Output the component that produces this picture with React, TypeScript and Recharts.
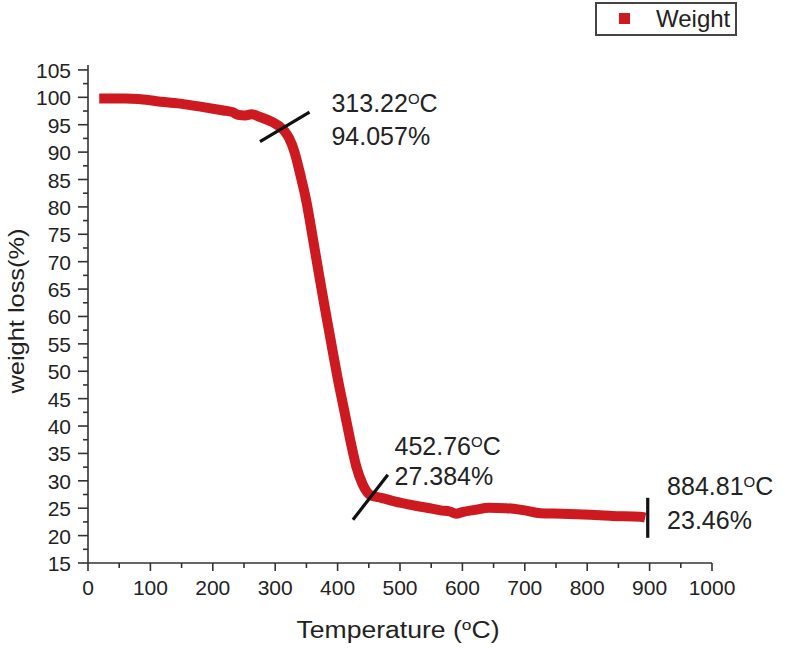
import {
  ComposedChart,
  Line,
  XAxis,
  YAxis,
  ReferenceLine,
  ReferenceDot,
} from "recharts";

// TGA curve: temperature (°C) vs remaining weight (%)
const temperature = [
  18, 60, 81, 110, 148, 180, 217, 232, 240, 252, 262, 276, 295, 313.22, 322, 331, 340, 350, 360,
  370, 380, 390, 400, 410, 420, 430, 440, 452.76, 470, 500, 527, 548, 565, 580, 590, 600, 620,
  643, 670, 700, 725, 760, 805, 840, 884.81, 893,
];
const weight = [
  99.8, 99.8, 99.7, 99.3, 98.85, 98.3, 97.6, 97.3, 96.8, 96.7, 96.9, 96.4, 95.5, 94.057, 92.6,
  90.0, 86.0, 81.0, 74.5, 67.8, 61.3, 55.0, 48.8, 43.2, 37.6, 32.6, 29.4, 27.384, 26.9, 26.0,
  25.4, 25.0, 24.6, 24.4, 24.0, 24.3, 24.7, 25.1, 25.0, 24.6, 24.1, 24.0, 23.8, 23.6, 23.46, 23.3,
];

// annotated points
const markTemps = [313.22, 452.76, 884.81];
const markWeights = [94.057, 27.384, 23.46];
const markTempLabels = ["313.22", "452.76", "884.81"];
const markWeightLabels = ["94.057%", "27.384%", "23.46%"];

// short black marker strokes (data units): [t1, w1, t2, w2]
const markerSegments = [
  [275.6, 91.9, 355, 97.3],
  [424.6, 22.9, 480.5, 31.1],
  [897, 19.6, 897, 26.9],
];

const xTicks = [
  0, 50, 100, 150, 200, 250, 300, 350, 400, 450, 500, 550, 600, 650, 700, 750, 800, 850, 900, 950,
  1000,
];
const yTicks = [
  15, 17.5, 20, 22.5, 25, 27.5, 30, 32.5, 35, 37.5, 40, 42.5, 45, 47.5, 50, 52.5, 55, 57.5, 60,
  62.5, 65, 67.5, 70, 72.5, 75, 77.5, 80, 82.5, 85, 87.5, 90, 92.5, 95, 97.5, 100, 102.5, 105,
];

const FONT = "'Liberation Sans', Arial, sans-serif";
const AXIS = "#333";
const TEXT = "#222";
const RED = "#cc1a20";

const data = temperature.map((t, i) => ({ t, w: weight[i] }));

// label offsets relative to each annotated point (px)
const labelOffsets = [
  { dx: 48, dy1: -18, dy2: 15 },
  { dx: 24, dy1: -40, dy2: -10 },
  { dx: 27, dy1: -22, dy2: 12 },
];

function XTick(props: any) {
  const { x, y, payload } = props;
  const major = payload.value % 100 === 0;
  return (
    <g>
      <line x1={x} x2={x} y1={y} y2={y + (major ? 8 : 5)} stroke={AXIS} strokeWidth={1.6} />
      {major && (
        <text x={x} y={y + 32} textAnchor="middle" fontSize={21} fill={TEXT} fontFamily={FONT}>
          {payload.value}
        </text>
      )}
    </g>
  );
}

function YTick(props: any) {
  const { x, y, payload } = props;
  const major = payload.value % 5 === 0;
  return (
    <g>
      <line x1={x} x2={x - (major ? 10 : 5)} y1={y} y2={y} stroke={AXIS} strokeWidth={1.6} />
      {major && (
        <text x={x - 17} y={y + 8} textAnchor="end" fontSize={21} fill={TEXT} fontFamily={FONT}>
          {payload.value}
        </text>
      )}
    </g>
  );
}

function PointLabel(props: any) {
  const { viewBox, temp, pct, dx, dy1, dy2 } = props;
  const cx = viewBox.x + (viewBox.width || 0) / 2;
  const cy = viewBox.y + (viewBox.height || 0) / 2;
  return (
    <g fontFamily={FONT} fill={TEXT} fontSize={25}>
      <text x={cx + dx} y={cy + dy1}>
        {temp}
        <tspan fontSize={15} dy={-8}>
          O
        </tspan>
        <tspan dy={8}>C</tspan>
      </text>
      <text x={cx + dx} y={cy + dy2}>
        {pct}
      </text>
    </g>
  );
}

function LegendBox() {
  return (
    <div
      style={{
        position: "absolute",
        left: 595,
        top: 2,
        boxSizing: "border-box",
        width: 142,
        height: 34,
        border: "2px solid #444",
        background: "#fff",
        fontFamily: FONT,
      }}
    >
      <span
        style={{
          position: "absolute",
          left: 22,
          top: 9,
          width: 11,
          height: 11,
          background: RED,
        }}
      />
      <span
        style={{
          position: "absolute",
          left: 59,
          top: 2,
          fontSize: 24,
          lineHeight: "26px",
          color: TEXT,
        }}
      >
        Weight
      </span>
    </div>
  );
}

export default function App() {
  return (
    <div style={{ position: "absolute", left: 0, top: 0, width: 787, height: 648, background: "#fff" }}>
      <ComposedChart
        width={787}
        height={648}
        data={data}
        margin={{ top: 65, right: 75, bottom: 0, left: 0 }}
      >
        <XAxis
          dataKey="t"
          type="number"
          domain={[0, 1000]}
          ticks={xTicks}
          interval={0}
          height={85}
          tickSize={0}
          tickMargin={0}
          tick={<XTick />}
          axisLine={{ stroke: AXIS, strokeWidth: 1.6 }}
        />
        <YAxis
          type="number"
          domain={[15, 105.9]}
          ticks={yTicks}
          interval={0}
          width={88}
          tickSize={0}
          tickMargin={0}
          tick={<YTick />}
          axisLine={{ stroke: AXIS, strokeWidth: 1.6 }}
        />
        <Line
          dataKey="w"
          type="monotone"
          stroke={RED}
          strokeWidth={10}
          strokeLinejoin="round"
          dot={false}
          activeDot={false}
          isAnimationActive={false}
        />
        {markerSegments.map((s, i) => (
          <ReferenceLine
            key={"seg" + i}
            segment={[
              { x: s[0], y: s[1] },
              { x: s[2], y: s[3] },
            ]}
            stroke="#111"
            strokeWidth={3.2}
          />
        ))}
        {markTemps.map((t, i) => (
          <ReferenceDot
            key={"lbl" + i}
            x={t}
            y={markWeights[i]}
            r={1}
            fill="none"
            stroke="none"
            label={
              <PointLabel
                temp={markTempLabels[i]}
                pct={markWeightLabels[i]}
                dx={labelOffsets[i].dx}
                dy1={labelOffsets[i].dy1}
                dy2={labelOffsets[i].dy2}
              />
            }
          />
        ))}
        <text
          x={24}
          y={311}
          transform="rotate(-90 24 311)"
          textAnchor="middle"
          fontSize={22}
          fill={TEXT}
          fontFamily={FONT}
          textLength={165}
          lengthAdjust="spacingAndGlyphs"
        >
          weight loss(%)
        </text>
        <text
          x={398}
          y={638}
          textAnchor="middle"
          fontSize={23}
          fill={TEXT}
          fontFamily={FONT}
          textLength={203}
          lengthAdjust="spacingAndGlyphs"
        >
          Temperature (
          <tspan fontSize={15} dy={-8}>
            o
          </tspan>
          <tspan dy={8}>C)</tspan>
        </text>
      </ComposedChart>
      <LegendBox />
    </div>
  );
}
